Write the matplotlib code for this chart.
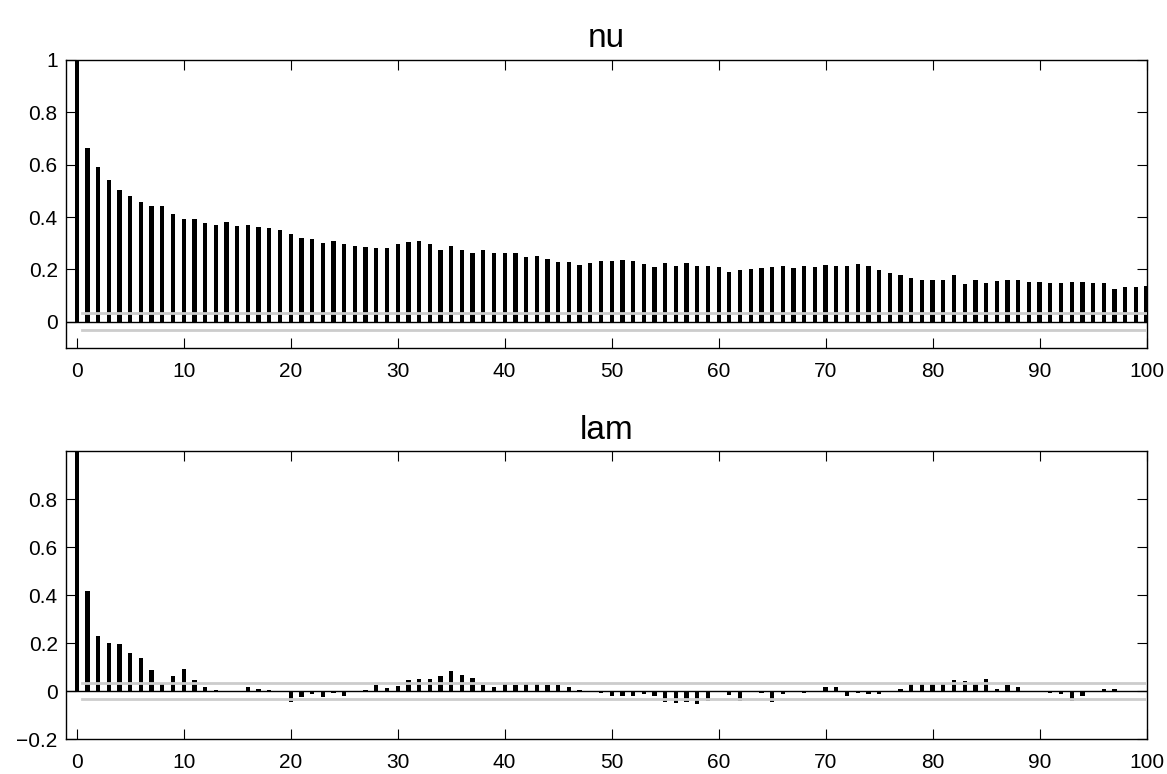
import numpy as np
import matplotlib
matplotlib.use("Agg")
import matplotlib.pyplot as plt
from matplotlib.ticker import FuncFormatter

plt.rcParams["font.family"] = ["Liberation Sans", "DejaVu Sans"]

# autocorrelation values, lags 0..100
lags = np.arange(101)

nu_acf = [
    1.0,
    0.662, 0.590, 0.543, 0.503, 0.482, 0.459, 0.444, 0.441, 0.411, 0.391,
    0.392, 0.379, 0.371, 0.380, 0.365, 0.368, 0.363, 0.358, 0.352, 0.336,
    0.321, 0.316, 0.300, 0.310, 0.299, 0.289, 0.284, 0.281, 0.280, 0.296,
    0.304, 0.308, 0.296, 0.274, 0.289, 0.275, 0.261, 0.274, 0.262, 0.262,
    0.261, 0.249, 0.253, 0.240, 0.228, 0.228, 0.218, 0.224, 0.234, 0.232,
    0.235, 0.234, 0.220, 0.211, 0.223, 0.212, 0.224, 0.215, 0.212, 0.210,
    0.192, 0.197, 0.201, 0.205, 0.210, 0.212, 0.205, 0.215, 0.209, 0.218,
    0.215, 0.212, 0.219, 0.214, 0.196, 0.187, 0.179, 0.168, 0.159, 0.159,
    0.159, 0.178, 0.146, 0.158, 0.150, 0.155, 0.158, 0.159, 0.151, 0.153,
    0.149, 0.149, 0.151, 0.151, 0.148, 0.148, 0.126, 0.132, 0.132, 0.137,
]

lam_acf = [
    1.0,
    0.418, 0.231, 0.199, 0.194, 0.157, 0.136, 0.088, 0.028, 0.061, 0.092,
    0.046, 0.015, 0.004, 0.000, -0.001, 0.015, 0.008, 0.003, -0.003, -0.047,
    -0.024, -0.011, -0.026, -0.008, -0.021, -0.001, 0.003, 0.025, 0.011, 0.019,
    0.044, 0.050, 0.048, 0.064, 0.082, 0.067, 0.053, 0.025, 0.018, 0.028,
    0.024, 0.029, 0.029, 0.025, 0.024, 0.015, 0.006, -0.002, -0.008, -0.022,
    -0.022, -0.022, -0.012, -0.022, -0.046, -0.049, -0.046, -0.056, -0.042, -0.006,
    -0.017, -0.042, -0.005, -0.008, -0.044, -0.012, -0.006, -0.010, -0.006, 0.017,
    0.015, -0.020, -0.007, -0.011, -0.014, -0.006, 0.008, 0.029, 0.029, 0.029,
    0.029, 0.046, 0.043, 0.029, 0.049, 0.008, 0.026, 0.017, 0.000, -0.006,
    -0.008, -0.011, -0.040, -0.019, -0.006, 0.010, 0.008, -0.003, -0.003, -0.005,
]

conf_bound = 0.032
titles = ["nu", "lam"]
ylims = [(-0.1, 1.0), (-0.2, 1.0)]
yticks = [[0, 0.2, 0.4, 0.6, 0.8, 1.0], [-0.2, 0, 0.2, 0.4, 0.6, 0.8]]


def fmt(v, pos):
    s = "%g" % round(v, 2)
    return s.replace("-", "\u2212")


fig = plt.figure(figsize=(11.67, 7.74), dpi=100)
ax_top = fig.add_axes([0.0566, 0.5504, 0.9259, 0.3721])
ax_bot = fig.add_axes([0.0566, 0.0452, 0.9259, 0.3721])

for ax, vals, title, yl, yt in zip([ax_top, ax_bot], [nu_acf, lam_acf], titles, ylims, yticks):
    ax.bar(lags, vals, width=0.4, color="black", linewidth=0, zorder=2)
    ax.axhline(0, color="black", linewidth=1.0, zorder=3)
    # approximate 95% bounds
    ax.plot([0.5, 100], [conf_bound, conf_bound], color="#cccccc", linewidth=2.0, zorder=4)
    ax.plot([0.5, 100], [-conf_bound, -conf_bound], color="#cccccc", linewidth=2.0, zorder=4)

    ax.set_xlim(-1, 100)
    ax.set_ylim(*yl)
    ax.set_xticks(np.arange(0, 101, 10))
    ax.set_yticks(yt)
    ax.yaxis.set_major_formatter(FuncFormatter(fmt))
    ax.tick_params(direction="in", length=7, width=0.8, top=True, right=True,
                   labelsize=15)
    ax.tick_params(axis="x", pad=10)
    ax.tick_params(axis="y", pad=6)
    for sp in ax.spines.values():
        sp.set_linewidth(1.0)
    ax.set_title(title, fontsize=24, pad=9)

fig.savefig("out.png", dpi=100)
